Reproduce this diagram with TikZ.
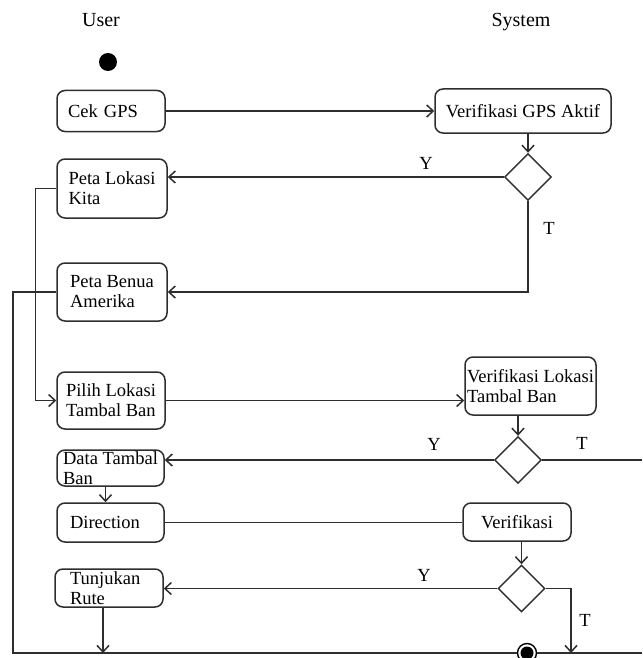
\documentclass[tikz,border=0pt]{standalone}
\usepackage{fontspec}
\setmainfont{Liberation Serif}
\usepackage{tikz}
\usetikzlibrary{positioning, arrows.meta, shapes.geometric, calc}
\definecolor{adline}{HTML}{2E2E2E}

\begin{document}
\begin{tikzpicture}[
    x=1pt, y=-1pt,
    box/.style={draw=adline, line width=1.5pt, rounded corners=8pt, align=left, inner xsep=4pt, inner ysep=1pt, font=\fontsize{18.5}{20}\selectfont},
    decision/.style={draw=adline, line width=1.4pt, diamond, minimum width=47pt, minimum height=47pt, inner sep=0pt},
    flow/.style={-{Straight Barb[length=6.5pt, width=12pt]}, line width=1.5pt, draw=adline},
    link/.style={line width=1.5pt, draw=adline},
    lane/.style={font=\fontsize{20}{22}\selectfont},
    guard/.style={font=\fontsize{18.5}{20}\selectfont},
    startdot/.style={circle, fill=black, minimum size=18pt, inner sep=0pt},
    enddot/.style={circle, draw=black, line width=1.4pt, fill=white, minimum size=19pt, inner sep=0pt,
        path picture={\fill[black] (path picture bounding box.center) circle (6.5pt);}},
]
\useasboundingbox (0,0) rectangle (642,658);

% Swimlanes
\node[lane] (user) at (101,20) {User};
\node[lane] (system) at (521,22) {System};

% Start
\node[startdot] (start) at (108,62) {};

% User actions
\node[box, minimum height=41, text width=86, inner xsep=11] (cek) at (111,111) {Cek GPS};
\node[box, minimum width=110, minimum height=59] (lokasi) at (112,188.5) {Peta Lokasi\\Kita};
\node[box, minimum width=110, minimum height=58] (benua) at (112,292) {Peta Benua\\Amerika};
\node[box, minimum width=108, minimum height=57] (pilih) at (111,400.5) {Pilih Lokasi\\Tambal Ban};
\node[box, minimum width=107, minimum height=36] (data) at (110.5,468) {Data Tambal\\Ban};
\node[box, minimum height=39, text width=81, inner xsep=13] (dir) at (110.5,522.5) {Direction};
\node[box, minimum height=38, text width=78, inner xsep=15] (tunj) at (109,588) {Tunjukan\\Rute};

% System actions
\node[box, minimum width=176, minimum height=44, align=center] (vgps) at (523,111) {Verifikasi GPS Aktif};
\node[box, minimum width=131, minimum height=58, inner xsep=1] (vlok) at (530.5,386) {Verifikasi Lokasi\\Tambal Ban};
\node[box, minimum width=108, minimum height=38, align=center] (ver) at (517,522) {Verifikasi};

% Decisions
\foreach \n/\px/\py in {d1/528/177, d2/518/460, d3/521.5/588.5}
    \node[decision] (\n) at (\px,\py) {};

% End
\node[enddot] (stop) at (527,653) {};
\coordinate (bl) at (13,653);
\coordinate (br) at (642,653);
\coordinate (tedge) at (642,460);
\coordinate (tcor) at (571,653);

% Flows
\draw[flow] (cek.east) -- (vgps.west);
\draw[flow] (d1.north |- vgps.south) -- (d1.north);
\draw[flow] (d1.west) -- (d1.west -| lokasi.east);
\draw[flow] (d1.south) |- (benua.east);
\draw[flow] (lokasi.west) -- ++(-21,0) |- (pilih.west);
\draw[link] (benua.west) -| (bl) -- (stop);
\draw[link] (stop) -- (br);
\draw[flow] (pilih.east) -- (pilih.east -| vlok.west);
\draw[flow] (vlok.south -| d2.north) -- (d2.north);
\draw[flow] (d2.west) -- (d2.west -| data.east);
\draw[link] (d2.east) -- (tedge);
\draw[flow] ([xshift=-5pt]data.south) -- ([xshift=-5pt]dir.north);
\draw[link] (dir.east) -- (dir.east -| ver.west);
\draw[flow] (ver.south -| d3.north) -- (d3.north);
\draw[flow] (d3.west) -- (d3.west -| tunj.east);
\draw[flow] (d3.east) -| (tcor);
\draw[flow] ([xshift=-6pt]tunj.south) -- ([xshift=-6pt]tunj.south |- bl);

% Guards
\node[guard] (y1) at (426,163) {Y};
\node[guard] (t1) at (549,228) {T};
\node[guard] (y2) at (434,444) {Y};
\node[guard] (t2) at (582,443) {T};
\node[guard] (y3) at (424,575) {Y};
\node[guard] (t3) at (585,620) {T};

\end{tikzpicture}
\end{document}
